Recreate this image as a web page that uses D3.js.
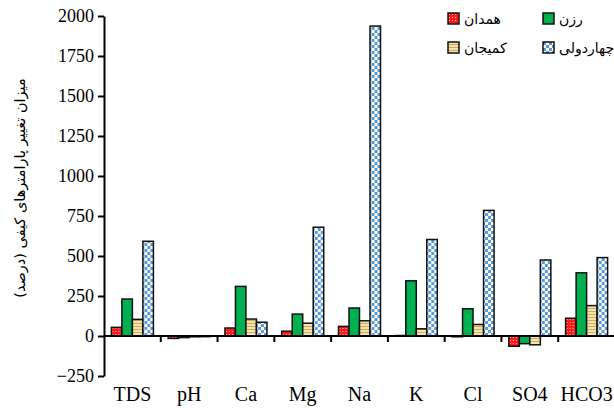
<html>
<head>
<meta charset="utf-8">
<script src="https://d3js.org/d3.v7.min.js"></script>
<style>
body { margin: 0; background: #fff; }
</style>
</head>
<body>
<svg width=614 height=408></svg>
<script>
var categories = ["TDS", "pH", "Ca", "Mg", "Na", "K", "Cl", "SO4", "HCO3"];
var seriesNames = ["همدان", "رزن", "کمیجان", "چهاردولی"];
var hamedan    = [54, -15, 50, 30, 60, 3, -5, -64, 111];
var razan      = [231, -10, 310, 137, 175, 345, 170, -48, 395];
var komijan    = [104, -5, 106, 80, 95, 45, 72, -55, 190];
var chahardoli = [592, -4, 86, 680, 1937, 603, 785, 475, 490];
var yTicks = [-250, 0, 250, 500, 750, 1000, 1250, 1500, 1750, 2000];
var yTitle = "میزان تغییر پارامترهای کیفی (درصد)";

var series = [hamedan, razan, komijan, chahardoli];
var fills = ["url(#pRed)", "#00b050", "url(#pTan)", "url(#pBlue)"];

var svg = d3.select("svg");
var defs = svg.append("defs");

// red with white dots
var p = defs.append("pattern").attr("id", "pRed").attr("patternUnits", "userSpaceOnUse")
  .attr("width", 3).attr("height", 3);
p.append("rect").attr("width", 3).attr("height", 3).attr("fill", "#ff1a1a");
p.append("rect").attr("x", 1).attr("y", 1).attr("width", 1).attr("height", 1).attr("fill", "#ffb0b0");

// tan horizontal stripes
p = defs.append("pattern").attr("id", "pTan").attr("patternUnits", "userSpaceOnUse")
  .attr("width", 4).attr("height", 3);
p.append("rect").attr("width", 4).attr("height", 3).attr("fill", "#f3e3b0");
p.append("rect").attr("y", 2).attr("width", 4).attr("height", 1).attr("fill", "#cfac58");

// blue checkerboard
p = defs.append("pattern").attr("id", "pBlue").attr("patternUnits", "userSpaceOnUse")
  .attr("width", 6).attr("height", 6);
p.append("rect").attr("width", 6).attr("height", 6).attr("fill", "#ffffff");
p.append("rect").attr("width", 3).attr("height", 3).attr("fill", "#5b9bd5");
p.append("rect").attr("x", 3).attr("y", 3).attr("width", 3).attr("height", 3).attr("fill", "#5b9bd5");

var x = d3.scaleBand().domain(categories).range([104, 615]).paddingInner(0.26).paddingOuter(0.13);
var xs = d3.scaleBand().domain(d3.range(4)).range([0, x.bandwidth()]);
var y = d3.scaleLinear().domain([-250, 2000]).range([376, 16]);

// bars
var groups = svg.append("g").selectAll("g").data(categories).enter().append("g")
  .attr("transform", function(d) { return "translate(" + x(d) + ",0)"; });
groups.selectAll("rect").data(function(d, i) { return series.map(function(s, k) { return {k: k, v: s[i]}; }); })
  .enter().append("rect")
  .attr("x", function(d) { return xs(d.k); })
  .attr("width", xs.bandwidth())
  .attr("y", function(d) { return y(Math.max(0, d.v)); })
  .attr("height", function(d) { return Math.abs(y(d.v) - y(0)); })
  .attr("fill", function(d) { return fills[d.k]; })
  .attr("stroke", "#111").attr("stroke-width", 1.5);

// y axis
var yAxis = svg.append("g").attr("transform", "translate(104,0)")
  .call(d3.axisLeft(y).tickValues(yTicks).tickFormat(d3.format("d")).tickSize(6).tickSizeOuter(0).tickPadding(4))
  .attr("font-family", "Liberation Serif, serif").attr("font-size", 18);
yAxis.select(".domain").attr("stroke", "#000").attr("stroke-width", 2);
yAxis.selectAll(".tick line").attr("stroke", "#000").attr("stroke-width", 2);
yAxis.selectAll(".tick text").attr("fill", "#000");

// x axis at zero
var step = x.step();
var x0 = 104;
svg.append("line").attr("x1", 104).attr("x2", 614).attr("y1", y(0)).attr("y2", y(0))
  .attr("stroke", "#000").attr("stroke-width", 2);
svg.append("g").selectAll("line").data(d3.range(1, categories.length + 1)).enter().append("line")
  .attr("x1", function(i) { return x0 + i * step; })
  .attr("x2", function(i) { return x0 + i * step; })
  .attr("y1", y(0)).attr("y2", y(0) + 6)
  .attr("stroke", "#000").attr("stroke-width", 2);

svg.append("g").selectAll("text").data(categories).enter().append("text")
  .attr("x", function(d) { return x(d) + x.bandwidth() / 2; })
  .attr("y", 401)
  .attr("text-anchor", "middle")
  .attr("font-family", "Liberation Serif, serif")
  .attr("font-size", 20)
  .text(function(d) { return d; });

// y title
svg.append("text")
  .attr("transform", "translate(25,188) rotate(-90)")
  .attr("text-anchor", "middle")
  .attr("font-family", "DejaVu Sans, sans-serif")
  .attr("font-size", 14.5)
  .attr("direction", "rtl")
  .text(yTitle);

// legend
var legPos = [[448, 13], [543, 13], [448, 42], [543, 42]];
var leg = svg.append("g").selectAll("g").data(seriesNames).enter().append("g")
  .attr("transform", function(d, i) { return "translate(" + legPos[i][0] + "," + legPos[i][1] + ")"; });
leg.append("rect").attr("width", 11).attr("height", 11)
  .attr("fill", function(d, i) { return fills[i]; })
  .attr("stroke", "#111").attr("stroke-width", 1.5);
leg.append("text").attr("x", 16).attr("y", 11)
  .attr("font-family", "DejaVu Sans, sans-serif")
  .attr("font-size", 14)
  .text(function(d) { return d; });
</script>
</body>
</html>
